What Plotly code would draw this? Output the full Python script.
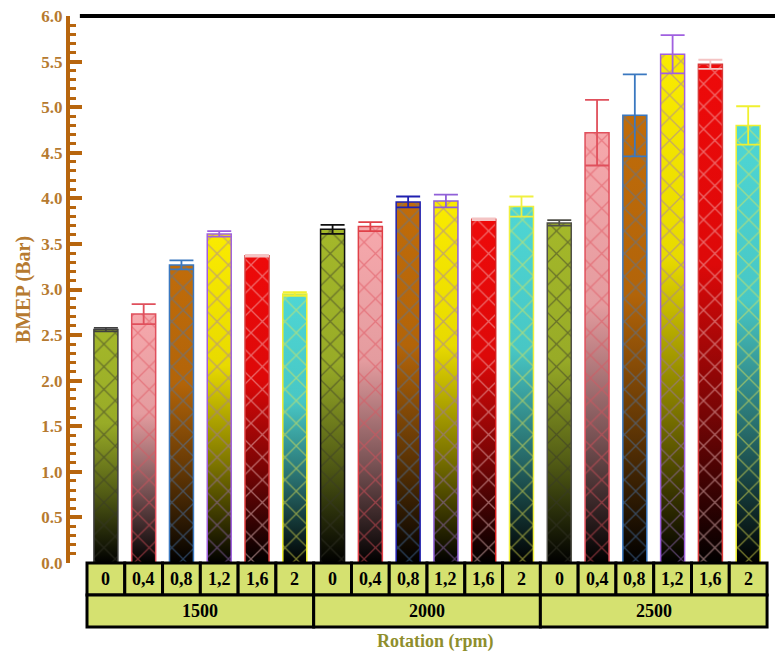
import plotly.graph_objects as go

# ---- data -------------------------------------------------------------
rpm_groups = ["1500", "2000", "2500"]
concentrations = ["0", "0,4", "0,8", "1,2", "1,6", "2"]

bmep_1500 = [2.56, 2.73, 3.27, 3.61, 3.37, 2.95]
bmep_2000 = [3.66, 3.69, 3.96, 3.97, 3.77, 3.91]
bmep_2500 = [3.73, 4.72, 4.91, 5.58, 5.47, 4.80]

err_1500 = [0.02, 0.11, 0.05, 0.03, 0.01, 0.02]
err_2000 = [0.05, 0.05, 0.06, 0.07, 0.01, 0.11]
err_2500 = [0.03, 0.36, 0.45, 0.21, 0.05, 0.21]

# ---- styles -----------------------------------------------------------
fill_colors = ["#a4b82a", "#f6a8ac", "#c06c0a", "#faeb00", "#ee0a0a", "#4ed6d4"]
hatch_colors = ["#36362a", "#e0505c", "#4a78b0", "#9a70c0", "#f4c0c0", "#e8e850"]
edge_1500 = ["#404040", "#e0505c", "#3a78c0", "#a060e0", "#d83838", "#f0f030"]
edge_2000 = ["#101010", "#e04048", "#2020b0", "#9060d8", "#d82020", "#f0f040"]
edge_2500 = ["#505048", "#e0505c", "#3a78c0", "#a060e0", "#d83838", "#f0f030"]
err_col_red = "#f4c4c4"

AXIS_BROWN = "#b8660e"
LABEL_BROWN = "#b67a30"
OLIVE = "#8e8e2c"
CELL = "#d5e170"
FONT = "Liberation Serif"
BAR_W = 0.635

values = [bmep_1500, bmep_2000, bmep_2500]
errors = [err_1500, err_2000, err_2500]
edges = [edge_1500, edge_2000, edge_2500]


def shade(hex_color, f):
    h = hex_color.lstrip("#")
    r, g, b = (int(h[i:i + 2], 16) for i in (0, 2, 4))
    return "rgb({},{},{})".format(int(r * f), int(g * f), int(b * f))


fig = go.Figure()
n_c = len(concentrations)

# gradient fills (base axes), colour at top fading to black at the bottom
for g, grp in enumerate(values):
    for k, v in enumerate(grp):
        xi = g * n_c + k
        c = fill_colors[k]
        fig.add_trace(go.Scatter(
            x=[xi - BAR_W / 2, xi + BAR_W / 2, xi + BAR_W / 2, xi - BAR_W / 2, xi - BAR_W / 2],
            y=[0, 0, v, v, 0],
            mode="lines", line=dict(width=0), fill="toself",
            fillgradient=dict(type="vertical", colorscale=[
                [0.0, "rgb(0,0,0)"], [0.3, shade(c, 0.5)],
                [0.6, shade(c, 0.93)], [1.0, shade(c, 1.0)]]),
            hoverinfo="skip", showlegend=False, xaxis="x", yaxis="y"))

# hatched bars with error bars (overlay axes, drawn above the gradients)
for g, grp in enumerate(values):
    for k, v in enumerate(grp):
        xi = g * n_c + k
        ecol = edges[g][k]
        fig.add_trace(go.Bar(
            x=[xi], y=[v], width=BAR_W,
            marker=dict(color="rgba(0,0,0,0)",
                        line=dict(color=ecol, width=1.5),
                        pattern=dict(shape="x", fgcolor=hatch_colors[k],
                                     size=16, solidity=0.16)),
            error_y=dict(type="data", array=[errors[g][k]], visible=True,
                         color=err_col_red if k == 4 else ecol,
                         thickness=1.8, width=12),
            showlegend=False, xaxis="x3", yaxis="y3",
            name=f"{rpm_groups[g]} rpm, {concentrations[k]}"))

# category table under the plot
shapes = []
annotations = []
for g, rpm in enumerate(rpm_groups):
    for k, lab in enumerate(concentrations):
        xi = g * n_c + k
        shapes.append(dict(type="rect", xref="x2", yref="y2",
                           x0=xi - 0.5, x1=xi + 0.5, y0=1, y1=2,
                           fillcolor=CELL, line=dict(color="black", width=3)))
        annotations.append(dict(xref="x2", yref="y2", x=xi, y=1.5, text=lab,
                                showarrow=False,
                                font=dict(family=FONT, size=18, color="black",
                                          weight="bold")))
    shapes.append(dict(type="rect", xref="x2", yref="y2",
                       x0=g * n_c - 0.5, x1=g * n_c + n_c - 0.5, y0=0, y1=1,
                       fillcolor=CELL, line=dict(color="black", width=3)))
    annotations.append(dict(xref="x2", yref="y2", x=g * n_c + (n_c - 1) / 2,
                            y=0.5, text=rpm, showarrow=False,
                            font=dict(family=FONT, size=18, color="black",
                                      weight="bold")))

# top frame line
shapes.append(dict(type="line", xref="paper", yref="paper", x0=0.014, x1=1,
                   y0=1, y1=1, line=dict(color="black", width=4)))

annotations.append(dict(xref="paper", yref="paper", x=0.518, y=-0.039,
                        text="Rotation (rpm)", showarrow=False,
                        font=dict(family=FONT, size=18, color=OLIVE,
                                  weight="bold")))

x_range = [-0.95, 17.71]
y_dom = [0.1091, 1.0]

fig.update_layout(
    width=775, height=666,
    margin=dict(l=70, r=0, t=16, b=36),
    paper_bgcolor="white", plot_bgcolor="rgba(0,0,0,0)",
    barmode="overlay",
    xaxis=dict(range=x_range, visible=False, domain=[0, 1], anchor="y"),
    yaxis=dict(range=[0, 6], domain=y_dom, anchor="x",
               dtick=0.5, tick0=0, tickformat=".1f",
               ticks="inside", ticklen=12, tickwidth=4, tickcolor=AXIS_BROWN,
               minor=dict(dtick=0.1, ticks="inside", ticklen=6, tickwidth=3,
                          tickcolor=AXIS_BROWN, showgrid=False),
               showline=True, linewidth=4, linecolor=AXIS_BROWN,
               showgrid=False, zeroline=False,
               tickfont=dict(family=FONT, size=17, color=LABEL_BROWN,
                             weight="bold"),
               title=dict(text="BMEP (Bar)", standoff=6,
                          font=dict(family=FONT, size=20, color=LABEL_BROWN,
                                    weight="bold"))),
    xaxis2=dict(range=x_range, visible=False, anchor="y2", domain=[0, 1]),
    yaxis2=dict(range=[-0.094, 2.11], visible=False, anchor="x2",
                domain=[0, 0.1150]),
    xaxis3=dict(range=x_range, visible=False, overlaying="x", anchor="y3"),
    yaxis3=dict(range=[0, 6], visible=False, overlaying="y", anchor="x3"),
    shapes=shapes,
    annotations=annotations,
)

fig.write_html("out.html")
